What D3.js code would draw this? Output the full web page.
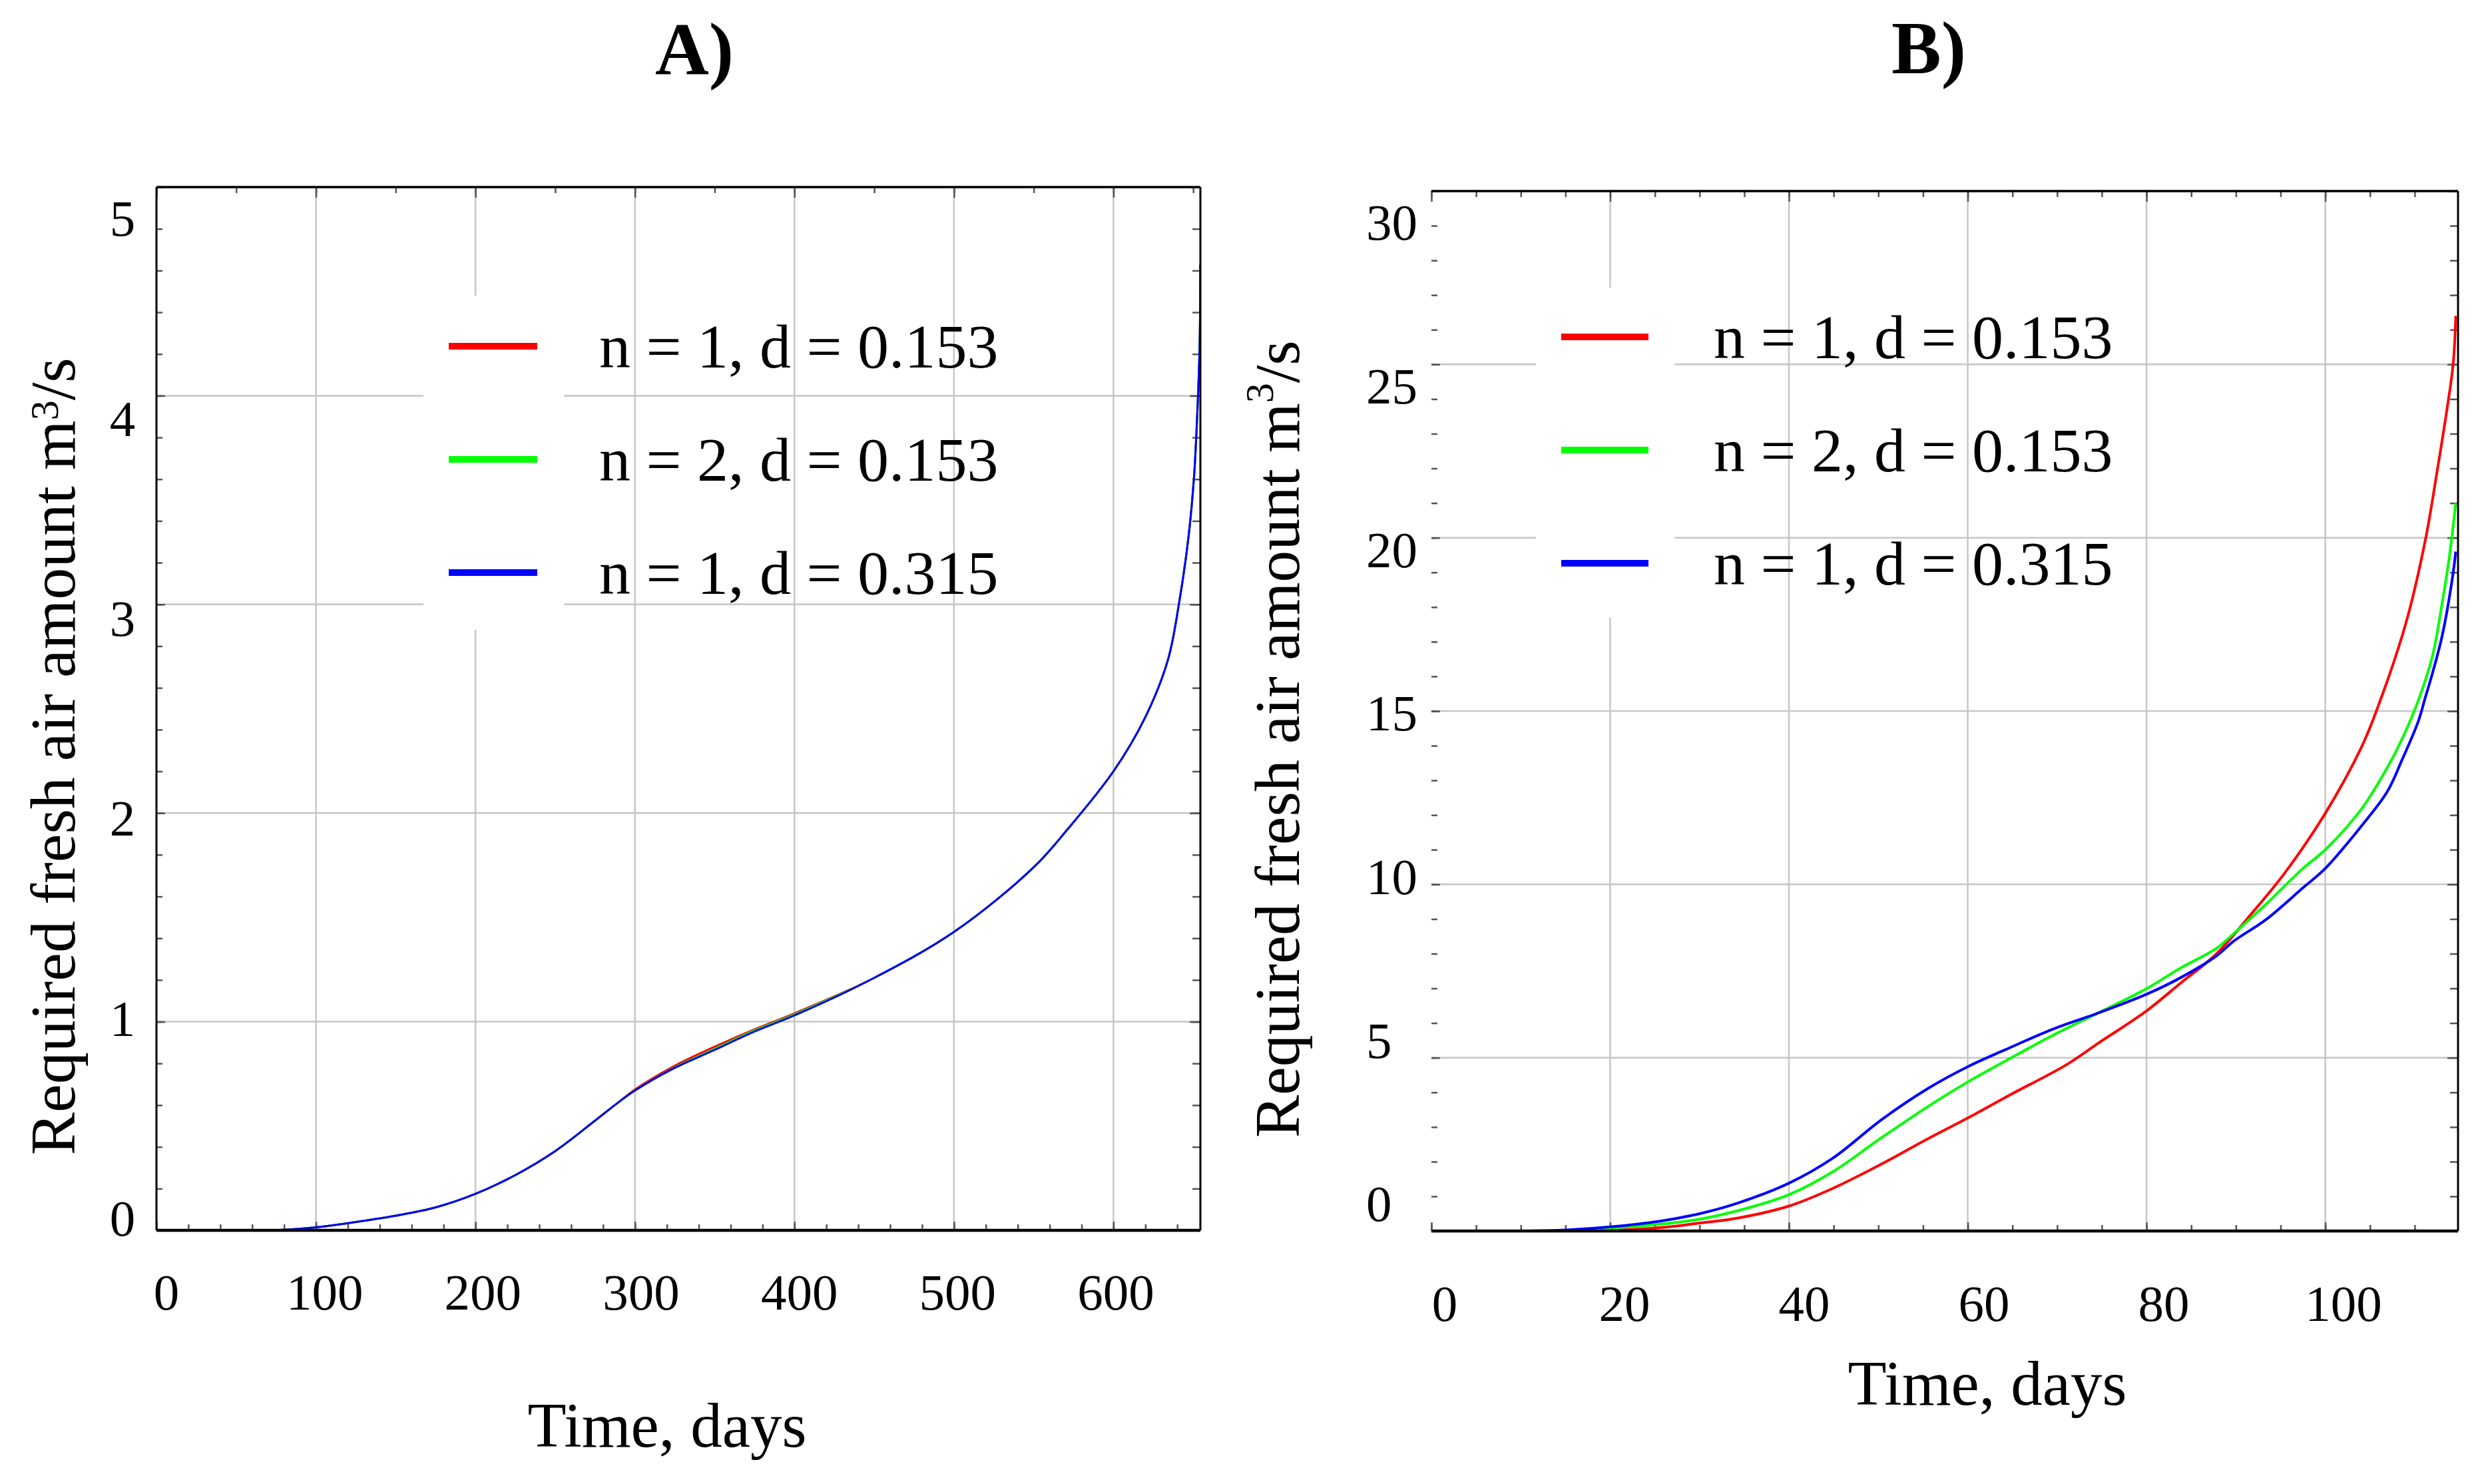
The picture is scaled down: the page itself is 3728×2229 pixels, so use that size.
<!DOCTYPE html>
<html>
<head>
<meta charset="utf-8">
<script src="https://cdn.jsdelivr.net/npm/d3@7"></script>
<style>
  body { margin: 0; background: #fff; }
  svg { display: block; }
  text { font-family: "Liberation Serif", "Times New Roman", serif; fill: #000; }
</style>
</head>
<body>
<div id="chart"></div>
<script>
// legend entries, same order in both panels
const seriesNames = ['n = 1, d = 0.153', 'n = 2, d = 0.153', 'n = 1, d = 0.315'];
const seriesColors = ['#ff0000', '#00ff00', '#0000ff'];

// panel A: days vs required fresh air (m3/s)
const aTime = [75, 100, 125, 150, 175, 200, 225, 250, 274, 289, 300, 324, 350, 374, 400, 450, 500, 550, 571, 600, 620, 634, 641, 647, 650.5, 652.3, 654, 654.5];
const aRed = [0, 0.014, 0.04, 0.07, 0.11, 0.175, 0.265, 0.38, 0.52, 0.61, 0.675, 0.785, 0.88, 0.96, 1.04, 1.21, 1.43, 1.74, 1.92, 2.2, 2.46, 2.73, 3.0, 3.32, 3.61, 3.87, 4.23, 4.63];
const aGreen = [0, 0.014, 0.04, 0.07, 0.11, 0.175, 0.265, 0.38, 0.52, 0.61, 0.67, 0.777, 0.87, 0.955, 1.035, 1.21, 1.43, 1.74, 1.92, 2.2, 2.46, 2.73, 3.0, 3.32, 3.61, 3.87, 4.23, 4.63];
const aBlue = [0, 0.014, 0.04, 0.07, 0.11, 0.175, 0.265, 0.38, 0.52, 0.61, 0.67, 0.775, 0.865, 0.95, 1.03, 1.21, 1.43, 1.74, 1.92, 2.2, 2.46, 2.73, 3.0, 3.32, 3.61, 3.87, 4.23, 4.63];
const aXTicks = [0, 100, 200, 300, 400, 500, 600];
const aYTicks = [0, 1, 2, 3, 4, 5];

// panel B
const bRedTime = [15, 20, 25.7, 30, 34.2, 40, 44.9, 50.4, 55.6, 60, 64.6, 71, 74.5, 80, 83.9, 87.8, 91.7, 95.5, 100, 104, 105.7, 109, 111.2, 112.5, 113.6, 114.3, 114.6];
const bRed = [0, 0.02, 0.1, 0.23, 0.37, 0.72, 1.23, 1.94, 2.67, 3.26, 3.91, 4.79, 5.4, 6.35, 7.17, 7.99, 9.14, 10.34, 12.05, 13.93, 14.99, 17.52, 19.94, 21.9, 23.68, 25.0, 26.4];
const bGreenTime = [10, 15, 20, 25.7, 30, 34.2, 40, 44.9, 50.4, 55.6, 60, 64.6, 69.7, 74.5, 80, 83.9, 87.8, 89.8, 93.3, 97.5, 100, 104, 106.9, 108.6, 110.4, 112, 113, 113.8, 114.6];
const bGreen = [0, 0.02, 0.08, 0.2, 0.34, 0.58, 1.05, 1.71, 2.7, 3.6, 4.3, 4.96, 5.67, 6.28, 6.99, 7.6, 8.15, 8.59, 9.41, 10.46, 11.0, 12.16, 13.35, 14.2, 15.3, 16.6, 18.0, 19.3, 21.0];
const bBlueTime = [10, 15, 20, 25.7, 30, 34.2, 40, 44.9, 50.4, 55.6, 60, 64.2, 69.7, 74.5, 80, 83.9, 87.8, 89.8, 93.3, 97.5, 100, 104, 106.9, 108.6, 110.4, 111.2, 112, 113.1, 114.2, 114.6];
const bBlue = [0, 0.03, 0.12, 0.29, 0.5, 0.8, 1.38, 2.1, 3.22, 4.12, 4.74, 5.23, 5.84, 6.28, 6.83, 7.32, 7.93, 8.37, 8.97, 9.9, 10.46, 11.67, 12.66, 13.6, 14.7, 15.4, 16.1, 17.2, 18.8, 19.6];
const bXTicks = [0, 20, 40, 60, 80, 100];
const bYTicks = [0, 5, 10, 15, 20, 25, 30];

const W = 3728, H = 2229;

const svg = d3.select('#chart')
  .append('svg')
  .attr('width', W)
  .attr('height', H)
  .attr('viewBox', `0 0 ${W} ${H}`);

const zip = (xs, ys) => xs.map((t, i) => ({ t, v: ys[i] }));

// layout of each panel
const panels = [
  {
    id: 'A', title: 'A)', titleX: 1043, titleY: 112,
    left: 235, right: 1803, top: 281, bottom: 1848, leftBorder: true,
    xMax: 654.5, yMax: 5,
    xTicks: aXTicks, yTicks: aYTicks, xMinorTop: 50, xMinorBottom: 20, yMinor: 0.2,
    series: [zip(aTime, aRed), zip(aTime, aGreen), zip(aTime, aBlue)],
    lineWidth: 3,
    xLab: { d: [0, 600], r: [250, 1676], y: 1967 },
    yLab: { r: [1830, 328], x: 184, anchor: 'middle' },
    xTitle: { x: 1002, y: 2173 },
    yTitle: { x: 112, y: 1735, supDy: -0.42 },
    legend: { box: [636, 444, 847, 946], x1: 674, x2: 807, ys: [520, 690, 860], tx: 900 }
  },
  {
    id: 'B', title: 'B)', titleX: 2897, titleY: 110,
    left: 2150, right: 3692, top: 287, bottom: 1849, leftBorder: false,
    xMax: 114.85, yMax: 30,
    xTicks: bXTicks, yTicks: bYTicks, xMinorTop: 5, xMinorBottom: 5, yMinor: 1,
    series: [zip(bRedTime, bRed), zip(bGreenTime, bGreen), zip(bBlueTime, bBlue)],
    lineWidth: 4,
    xLab: { d: [0, 100], r: [2170, 3520], y: 1984 },
    yLab: { r: [1808, 334], x: 2052, anchor: 'start' },
    xTitle: { x: 2985, y: 2110 },
    yTitle: { x: 1951, y: 1709, supDy: -0.65 },
    legend: { box: [2307, 432, 2515, 928], x1: 2345, x2: 2476, ys: [506, 676, 846], tx: 2574 }
  }
];

function drawPanel(p) {
  const g = svg.append('g').attr('class', 'panel-' + p.id);

  const x = d3.scaleLinear().domain([0, p.xMax]).range([p.left, p.right]);
  const y = d3.scaleLinear().domain([0, p.yMax]).range([p.bottom, p.top]);

  // grid
  g.append('g').selectAll('line')
    .data(p.xTicks.filter(d => d > 0))
    .join('line')
    .attr('x1', d => x(d)).attr('x2', d => x(d))
    .attr('y1', p.top).attr('y2', p.bottom)
    .attr('stroke', '#c6c6c6').attr('stroke-width', 2.5);
  g.append('g').selectAll('line')
    .data(p.yTicks.filter(d => d > 0 && d < p.yMax))
    .join('line')
    .attr('x1', p.left).attr('x2', p.right)
    .attr('y1', d => y(d)).attr('y2', d => y(d))
    .attr('stroke', '#c6c6c6').attr('stroke-width', 2.5);

  // white patch behind the legend keys
  const lb = p.legend.box;
  g.append('rect')
    .attr('x', lb[0]).attr('y', lb[1])
    .attr('width', lb[2] - lb[0]).attr('height', lb[3] - lb[1])
    .attr('fill', '#fff');

  // inward ticks on all four sides
  const tickGroup = (axis, tx, ty) => {
    g.append('g')
      .attr('transform', `translate(${tx},${ty})`)
      .call(axis)
      .call(s => s.select('.domain').remove())
      .call(s => s.selectAll('line').attr('stroke', '#555').attr('stroke-width', 2.5));
  };
  const minorX = step => d3.range(0, p.xMax + 1e-9, step);
  const minorY = d3.range(0, p.yMax + 1e-9, p.yMinor);

  tickGroup(d3.axisBottom(x).tickValues(minorX(p.xMinorTop)).tickSize(9).tickFormat(''), 0, p.top);
  tickGroup(d3.axisBottom(x).tickValues(p.xTicks).tickSize(16).tickFormat(''), 0, p.top);
  tickGroup(d3.axisTop(x).tickValues(minorX(p.xMinorBottom)).tickSize(9).tickFormat(''), 0, p.bottom);
  tickGroup(d3.axisTop(x).tickValues(p.xTicks).tickSize(13).tickFormat(''), 0, p.bottom);
  tickGroup(d3.axisRight(y).tickValues(minorY).tickSize(9).tickFormat(''), p.left, 0);
  tickGroup(d3.axisRight(y).tickValues(p.yTicks).tickSize(13).tickFormat(''), p.left, 0);
  tickGroup(d3.axisLeft(y).tickValues(minorY).tickSize(12).tickFormat(''), p.right, 0);
  tickGroup(d3.axisLeft(y).tickValues(p.yTicks).tickSize(16).tickFormat(''), p.right, 0);

  // curves
  const clipId = 'clip-' + p.id;
  svg.append('defs').append('clipPath').attr('id', clipId)
    .append('rect')
    .attr('x', p.left).attr('y', p.top - 2)
    .attr('width', p.right - p.left).attr('height', p.bottom - p.top + 2);

  const line = d3.line()
    .x(d => x(d.t))
    .y(d => y(d.v))
    .curve(d3.curveCatmullRom.alpha(0.5));

  g.append('g').attr('clip-path', `url(#${clipId})`)
    .selectAll('path')
    .data(p.series)
    .join('path')
    .attr('d', line)
    .attr('fill', 'none')
    .attr('stroke', (d, i) => seriesColors[i])
    .attr('stroke-width', p.lineWidth)
    .attr('stroke-linejoin', 'round');

  // frame
  const frame = g.append('g').attr('stroke', '#000').attr('fill', 'none');
  frame.append('line').attr('x1', p.left).attr('x2', p.right).attr('y1', p.top).attr('y2', p.top).attr('stroke-width', 3.5);
  frame.append('line').attr('x1', p.left).attr('x2', p.right).attr('y1', p.bottom).attr('y2', p.bottom).attr('stroke-width', 4.5);
  frame.append('line').attr('x1', p.right).attr('x2', p.right).attr('y1', p.top).attr('y2', p.bottom).attr('stroke-width', 3);
  if (p.leftBorder) {
    frame.append('line').attr('x1', p.left).attr('x2', p.left).attr('y1', p.top).attr('y2', p.bottom).attr('stroke-width', 3);
  }

  // tick labels
  const xl = d3.scaleLinear().domain(p.xLab.d).range(p.xLab.r);
  g.append('g').selectAll('text')
    .data(p.xTicks)
    .join('text')
    .attr('x', d => xl(d))
    .attr('y', p.xLab.y)
    .attr('text-anchor', 'middle')
    .style('font-size', '77px')
    .text(d => d);

  const yl = d3.scaleLinear().domain([0, p.yMax]).range(p.yLab.r);
  g.append('g').selectAll('text')
    .data(p.yTicks)
    .join('text')
    .attr('x', p.yLab.x)
    .attr('y', d => yl(d))
    .attr('dy', '0.34em')
    .attr('text-anchor', p.yLab.anchor)
    .style('font-size', '77px')
    .text(d => d);

  // axis titles
  g.append('text')
    .attr('x', p.xTitle.x)
    .attr('y', p.xTitle.y)
    .attr('text-anchor', 'middle')
    .style('font-size', '95px')
    .text('Time, days');

  const yt = g.append('text')
    .attr('transform', `translate(${p.yTitle.x},${p.yTitle.y}) rotate(-90)`)
    .attr('text-anchor', 'start')
    .style('font-size', '96px');
  yt.append('tspan').text('Required fresh air amount m');
  yt.append('tspan')
    .attr('dy', p.yTitle.supDy + 'em')
    .style('font-size', '60px')
    .text('3');
  yt.append('tspan')
    .attr('dy', (-p.yTitle.supDy * 60 / 96) + 'em')
    .text('/s');

  // panel title
  g.append('text')
    .attr('x', p.titleX)
    .attr('y', p.titleY)
    .attr('text-anchor', 'middle')
    .style('font-size', '112px')
    .style('font-weight', 'bold')
    .text(p.title);

  // legend
  const lg = g.append('g');
  seriesNames.forEach((name, i) => {
    const ly = p.legend.ys[i];
    lg.append('line')
      .attr('x1', p.legend.x1).attr('x2', p.legend.x2)
      .attr('y1', ly).attr('y2', ly)
      .attr('stroke', seriesColors[i])
      .attr('stroke-width', 10);
    lg.append('text')
      .attr('x', p.legend.tx)
      .attr('y', ly + 32)
      .style('font-size', '94px')
      .text(name);
  });
}

panels.forEach(drawPanel);
</script>
</body>
</html>
